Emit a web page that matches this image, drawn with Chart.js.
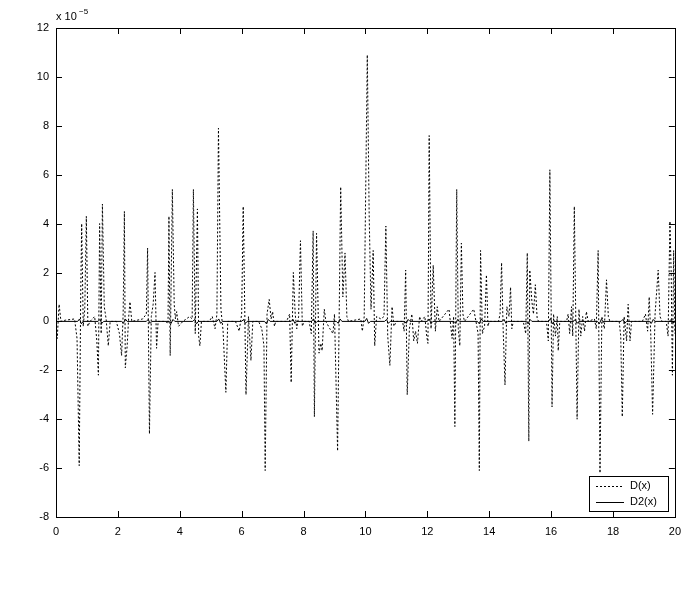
<!DOCTYPE html>
<html>
<head>
<meta charset="utf-8">
<script src="https://cdn.jsdelivr.net/npm/chart.js@4/dist/chart.umd.min.js"></script>
<style>
  html, body { margin: 0; padding: 0; background: #fff; }
  #wrap { width: 689px; height: 614px; }
</style>
</head>
<body>
<div id="wrap"><canvas id="chart" width="689" height="614"></canvas></div>
<script>
// Tick labels
var xTicks = [0, 2, 4, 6, 8, 10, 12, 14, 16, 18, 20];
var yTicks = [-8, -6, -4, -2, 0, 2, 4, 6, 8, 10, 12];

// D(x), values in units of 1e-5
var dX = [
  0, 0.04, 0.1, 0.16, 0.3, 0.6, 0.68, 0.75, 0.8, 0.83, 0.88, 0.93, 0.98, 1.03, 1.1,
  1.25, 1.32, 1.37, 1.41, 1.46, 1.5, 1.56, 1.62, 1.69, 1.75,
  1.95, 2.05, 2.12, 2.17, 2.21, 2.24, 2.3, 2.35, 2.39, 2.45,
  2.8, 2.92, 2.96, 3.02, 3.08, 3.14, 3.2, 3.25, 3.3,
  3.55, 3.62, 3.65, 3.69, 3.76, 3.82, 3.86, 3.9, 3.96, 4.1,
  4.32, 4.4, 4.44, 4.5, 4.57, 4.61, 4.65, 4.7,
  4.95, 5.05, 5.14, 5.2, 5.25, 5.33, 5.4, 5.49, 5.55,
  5.8, 5.92, 6.0, 6.05, 6.14, 6.22, 6.3, 6.36,
  6.55, 6.65, 6.72, 6.76, 6.82, 6.89, 6.95, 7.0, 7.06, 7.1,
  7.45, 7.55, 7.6, 7.67, 7.73, 7.78, 7.84, 7.9, 7.96, 8.02,
  8.18, 8.25, 8.31, 8.35, 8.42, 8.5, 8.56, 8.6, 8.67, 8.72,
  8.85, 8.95, 9.0, 9.1, 9.2, 9.27, 9.34, 9.4, 9.45,
  9.85, 9.9, 9.96, 10.06, 10.12, 10.18, 10.25, 10.3, 10.36,
  10.5, 10.6, 10.66, 10.72, 10.79, 10.86, 10.92, 11.0,
  11.2, 11.25, 11.3, 11.35, 11.42, 11.5, 11.56, 11.62, 11.68, 11.75, 11.8,
  11.92, 11.98, 12.02, 12.06, 12.12, 12.19, 12.26, 12.32, 12.38,
  12.7, 12.8, 12.85, 12.89, 12.95, 13.0, 13.05, 13.1, 13.15, 13.2,
  13.5, 13.6, 13.64, 13.68, 13.72, 13.78, 13.85, 13.91, 13.96, 14.0,
  14.3, 14.35, 14.4, 14.45, 14.51, 14.57, 14.64, 14.69, 14.73, 14.78,
  15.1, 15.18, 15.23, 15.28, 15.31, 15.38, 15.43, 15.49, 15.55, 15.6,
  15.85, 15.91, 15.96, 16.03, 16.08, 16.14, 16.2, 16.23, 16.28,
  16.5, 16.55, 16.6, 16.66, 16.7, 16.75, 16.84, 16.9, 16.96, 17.02, 17.08, 17.14, 17.2,
  17.4, 17.46, 17.52, 17.58, 17.64, 17.72, 17.79, 17.85, 17.9,
  18.2, 18.25, 18.3, 18.36, 18.44, 18.49, 18.55, 18.6,
  18.95, 19.05, 19.12, 19.17, 19.22, 19.28, 19.36, 19.46, 19.52, 19.58,
  19.72, 19.78, 19.84, 19.88, 19.92, 19.96, 20.0
];
var dY = [
  0, -0.7, 0.7, 0, 0.05, 0.1, -0.7, -5.9, 1.2, 4.0, -0.2, 0.5, 4.3, -0.2, 0,
  0.2, -0.8, -2.2, 4.0, -0.5, 4.8, 0.6, 0.1, -1.0, 0,
  0, -0.5, -1.4, 0.3, 4.5, -1.9, -1.0, 0.2, 0.8, 0,
  0.1, 0.3, 3.0, -4.6, 0.2, 0.7, 2.0, -1.1, 0,
  0, -0.1, 4.3, -1.4, 5.4, 0.7, 0.1, 0.4, -0.2, 0,
  0.2, 0.1, 5.4, -0.5, 4.6, -0.6, -1.0, 0,
  0, 0.2, -0.3, 0.3, 7.9, 0.5, -0.4, -2.9, 0,
  0, -0.4, 0.3, 4.7, -3.0, 0.2, -1.6, 0,
  0, -0.3, -1.0, -6.1, 0.3, 0.9, 0.1, 0.4, -0.2, 0,
  0, 0.3, -2.5, 2.0, 0.3, -0.3, 0.2, 3.3, -0.2, 0,
  0, -0.5, 3.7, -3.9, 3.6, -1.3, -0.9, -1.2, 0.5, 0,
  -0.3, -0.5, 0.3, -5.3, 5.5, 1.0, 2.8, 0.2, 0,
  0.1, -0.4, 0.2, 10.9, 4.4, 0.5, 2.9, -1.0, 0.2,
  0.1, 0.2, 3.9, -0.6, -1.8, 0.6, -0.2, 0,
  0, -0.4, 2.1, -3.0, -0.3, 0.3, -0.8, -0.4, -0.9, 0.2, 0,
  0.2, -0.6, -0.9, 7.6, -0.3, 2.3, -0.4, 0.6, 0,
  0.5, -0.7, 0.2, -4.3, 5.4, -0.3, -1.0, 3.2, 0.3, 0,
  0.5, -0.2, -0.5, -6.1, 2.9, -0.5, -0.2, 1.9, -0.2, 0,
  0, 0.3, 2.4, -0.3, -2.6, 0.6, 0.2, 1.4, -0.3, 0,
  0, -0.5, 2.8, -4.9, 2.1, 0.8, 0.3, 1.5, 0.1, 0,
  0, -0.8, 6.2, -3.5, 0.3, -0.6, 0.2, -1.2, 0,
  0, 0.3, -0.5, 0.6, -0.6, 4.7, -4.0, 0.5, -0.6, 0.2, -0.4, 0.4, 0,
  0.1, -0.3, 2.9, -6.2, 0.2, -0.3, 1.7, 0.2, 0,
  0, -0.6, -3.9, 0.2, -0.8, 0.7, -0.8, 0,
  0, 0.3, -0.4, 1.0, -0.5, -3.8, 0.3, 2.1, 0.2, 0,
  0, -0.6, 4.1, 2.0, -2.2, 2.9, -0.5
];

// D2(x), tiny wiggles near zero at each burst
var d2X = [
  0,
  0.7, 0.76, 0.82, 0.88, 1.36, 1.42, 1.48, 1.54, 2.12, 2.18, 2.24, 2.3,
  2.92, 2.98, 3.04, 3.1, 3.66, 3.72, 3.78, 3.84, 4.42, 4.48, 4.54, 4.6,
  5.2, 5.26, 5.32, 5.38, 6.0, 6.06, 6.12, 6.18, 6.74, 6.8, 6.86, 6.92,
  7.6, 7.66, 7.72, 7.78, 8.26, 8.32, 8.38, 8.44, 9.06, 9.12, 9.18, 9.24,
  9.98, 10.04, 10.1, 10.16, 10.62, 10.68, 10.74, 10.8, 11.26, 11.32, 11.38, 11.44,
  12.0, 12.06, 12.12, 12.18, 12.86, 12.92, 12.98, 13.04, 13.62, 13.68, 13.74, 13.8,
  14.42, 14.48, 14.54, 14.6, 15.2, 15.26, 15.32, 15.38, 15.92, 15.98, 16.04, 16.1,
  16.72, 16.78, 16.84, 16.9, 17.5, 17.56, 17.62, 17.68, 18.26, 18.32, 18.38, 18.44,
  19.18, 19.24, 19.3, 19.36, 19.82, 19.88, 19.94,
  20
];
var d2Y = [
  0,
  0, 0.1, -0.1, 0, 0, 0.08, -0.08, 0, 0, -0.08, 0.1, 0,
  0, 0.08, -0.08, 0, 0, -0.08, 0.08, 0, 0, 0.08, -0.1, 0,
  0, 0.1, -0.08, 0, 0, 0.08, -0.08, 0, 0, -0.1, 0.08, 0,
  0, 0.08, -0.08, 0, 0, 0.1, -0.08, 0, 0, -0.08, 0.1, 0,
  0, 0.12, -0.08, 0, 0, 0.08, -0.08, 0, 0, -0.08, 0.08, 0,
  0, 0.1, -0.08, 0, 0, -0.08, 0.08, 0, 0, -0.1, 0.1, 0,
  0, 0.08, -0.08, 0, 0, -0.1, 0.08, 0, 0, 0.12, -0.1, 0,
  0, 0.08, -0.08, 0, 0, -0.1, 0.08, 0, 0, 0.08, -0.08, 0,
  0, -0.08, 0.08, 0, 0, 0.08, -0.06,
  0
];

var font = { family: '"Liberation Sans", Arial, Helvetica, sans-serif', size: 11 };

function toPoints(xs, ys) {
  return xs.map(function(x, i) { return { x: x, y: ys[i] }; });
}

// frame, inward ticks, exponent label and legend box
var matlabFrame = {
  id: 'matlabFrame',
  afterDraw: function(chart) {
    var ctx = chart.ctx;
    var a = chart.chartArea;
    var xs = chart.scales.x;
    var ys = chart.scales.y;
    ctx.save();
    ctx.strokeStyle = '#000';
    ctx.lineWidth = 1;
    ctx.setLineDash([]);
    ctx.strokeRect(Math.round(a.left) + 0.5, Math.round(a.top) + 0.5,
      Math.round(a.right - a.left), Math.round(a.bottom - a.top));
    ctx.beginPath();
    xTicks.forEach(function(v) {
      var px = Math.round(xs.getPixelForValue(v)) + 0.5;
      ctx.moveTo(px, a.bottom); ctx.lineTo(px, a.bottom - 6);
      ctx.moveTo(px, a.top); ctx.lineTo(px, a.top + 6);
    });
    yTicks.forEach(function(v) {
      var py = Math.round(ys.getPixelForValue(v)) + 0.5;
      ctx.moveTo(a.left, py); ctx.lineTo(a.left + 6, py);
      ctx.moveTo(a.right, py); ctx.lineTo(a.right - 6, py);
    });
    ctx.stroke();

    // exponent
    ctx.fillStyle = '#000';
    ctx.textBaseline = 'alphabetic';
    ctx.textAlign = 'left';
    ctx.font = '11px ' + font.family;
    ctx.fillText('x 10', a.left, a.top - 8);
    ctx.font = '8px ' + font.family;
    ctx.fillText('\u22125', a.left + 23, a.top - 14);

    // legend
    var lx = 589, ly = 476, lw = 79, lh = 35;
    ctx.fillStyle = '#fff';
    ctx.fillRect(lx, ly, lw, lh);
    ctx.strokeRect(lx + 0.5, ly + 0.5, lw, lh);
    ctx.beginPath();
    ctx.setLineDash([2, 2]);
    ctx.moveTo(596, 486.5); ctx.lineTo(624, 486.5);
    ctx.stroke();
    ctx.setLineDash([]);
    ctx.beginPath();
    ctx.moveTo(596, 502.5); ctx.lineTo(624, 502.5);
    ctx.stroke();
    ctx.fillStyle = '#000';
    ctx.font = '11px ' + font.family;
    ctx.textBaseline = 'middle';
    ctx.fillText('D(x)', 630, 486);
    ctx.fillText('D2(x)', 630, 502);
    ctx.restore();
  }
};

new Chart(document.getElementById('chart'), {
  type: 'line',
  data: {
    datasets: [
      {
        label: 'D(x)',
        data: toPoints(dX, dY),
        borderColor: '#000',
        borderWidth: 1,
        borderDash: [2, 2],
        pointRadius: 0,
        tension: 0,
        fill: false
      },
      {
        label: 'D2(x)',
        data: toPoints(d2X, d2Y),
        borderColor: '#000',
        borderWidth: 1,
        pointRadius: 0,
        tension: 0,
        fill: false
      }
    ]
  },
  options: {
    responsive: false,
    animation: false,
    layout: { padding: { left: 0, right: 14, top: 28, bottom: 67 } },
    plugins: {
      legend: { display: false },
      tooltip: { enabled: false }
    },
    scales: {
      x: {
        type: 'linear',
        min: 0,
        max: 20,
        afterBuildTicks: function(scale) {
          scale.ticks = xTicks.map(function(v) { return { value: v }; });
        },
        afterFit: function(scale) { scale.height = 30; },
        grid: { display: false, drawTicks: false },
        border: { display: false },
        ticks: { color: '#000', font: font, padding: 8, maxRotation: 0 }
      },
      y: {
        type: 'linear',
        min: -8,
        max: 12,
        afterBuildTicks: function(scale) {
          scale.ticks = yTicks.map(function(v) { return { value: v }; });
        },
        afterFit: function(scale) { scale.width = 56; },
        grid: { display: false, drawTicks: false },
        border: { display: false },
        ticks: { color: '#000', font: font, padding: 7 }
      }
    }
  },
  plugins: [matlabFrame]
});
</script>
</body>
</html>
